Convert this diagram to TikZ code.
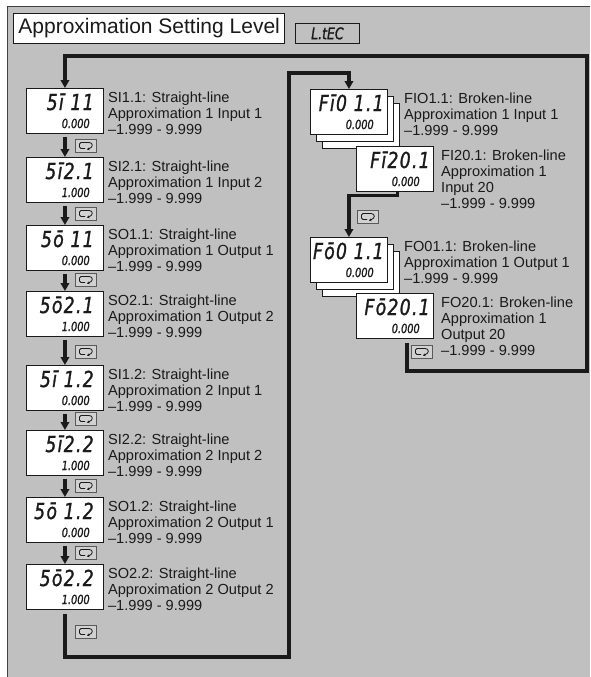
\documentclass[tikz,border=0pt]{standalone}
\usepackage{fontspec}
\setmainfont{Liberation Sans}
\newfontfamily\segfont[FakeStretch=0.78,FakeBold=1.2]{DejaVu Sans}
\newfontfamily\segwide[FakeStretch=0.78,FakeBold=1.2,LetterSpace=6]{DejaVu Sans}
\usetikzlibrary{arrows.meta}
\definecolor{bggray}{HTML}{C0C0C0}
\definecolor{ink}{HTML}{1A1A1A}
\tikzset{
  lcd/.style={draw=ink, line width=0.9pt, fill=white, minimum width=77pt, minimum height=45pt, anchor=north west, inner sep=0pt},
  segbig/.style={font=\segwide\itshape\fontsize{22}{22}\selectfont, inner sep=0pt, anchor=base east, text=ink},
  segsmall/.style={font=\segfont\itshape\fontsize{12.5}{12.5}\selectfont, inner sep=0pt, anchor=base east, text=ink},
  lbl/.style={font=\fontsize{14.6}{16}\selectfont, anchor=north west, inner sep=0pt, align=left, text=ink},
  flow/.style={line width=3.4pt, draw=ink},
  flowarr/.style={flow, -{Triangle[length=8pt,width=8.5pt]}},
  keyicon/.pic={
    \draw[draw=black!65, line width=0.6pt, fill=black!18] (0,0) rectangle (21,13);
    \draw[ink, line width=0.8pt, rounded corners=1.5pt] (14,3.5) -- (4.5,3.5) -- (4.5,9.5) -- (10,9.5);
    \draw[ink, line width=0.8pt, -{Stealth[length=2.5pt,width=3pt]}] (14,3.5) .. controls (18.5,3.5) and (18.5,8.5) .. (12,10.5);
  }
}
\newcommand\dispunit[5]{%
  \node[lcd] (#1) at (#2) {};
  \node[segbig] (#1t) at ([xshift=-10pt,yshift=-22pt]#1.north east) {#3};
  \node[segsmall] (#1s) at ([xshift=-14pt,yshift=-40pt]#1.north east) {#4};
  \node[lbl] (#1l) at ([xshift=4pt,yshift=-4pt]#1.north east) {#5};
}
\begin{document}
\begin{tikzpicture}[x=1pt,y=-1pt]
\useasboundingbox (0,0) rectangle (590,677);
\fill[bggray] (7,6) rectangle (590,677);
\draw[black!75, line width=0.8pt] (7,677) -- (7,6) -- (590,6);

% title
\node[draw=ink, line width=0.9pt, fill=white, anchor=north west, minimum height=30pt, inner xsep=5pt, inner ysep=0pt,
      font=\fontsize{21}{21}\selectfont, text=ink] (title) at (13,13) {Approximation Setting Level};
\node[draw=ink, line width=0.8pt, anchor=north west, minimum width=64pt, minimum height=20pt, inner sep=0pt,
      font=\segfont\itshape\fontsize{16}{16}\selectfont, text=ink] (lvl) at (295,23) {L.tEC};

% left column
\dispunit{b1}{26,88}{5ī 11}{0.000}{SI1.1: Straight-line\\Approximation 1 Input 1\\–1.999 - 9.999}
\dispunit{b2}{26,157}{5ī2.1}{1.000}{SI2.1: Straight-line\\Approximation 1 Input 2\\–1.999 - 9.999}
\dispunit{b3}{26,225}{5ō 11}{0.000}{SO1.1: Straight-line\\Approximation 1 Output 1\\–1.999 - 9.999}
\dispunit{b4}{26,291}{5ō2.1}{1.000}{SO2.1: Straight-line\\Approximation 1 Output 2\\–1.999 - 9.999}
\dispunit{b5}{26,365}{5ī 1.2}{0.000}{SI1.2: Straight-line\\Approximation 2 Input 1\\–1.999 - 9.999}
\dispunit{b6}{26,430}{5ī2.2}{1.000}{SI2.2: Straight-line\\Approximation 2 Input 2\\–1.999 - 9.999}
\dispunit{b7}{26,497}{5ō 1.2}{0.000}{SO1.2: Straight-line\\Approximation 2 Output 1\\–1.999 - 9.999}
\dispunit{b8}{26,564}{5ō2.2}{1.000}{SO2.2: Straight-line\\Approximation 2 Output 2\\–1.999 - 9.999}

\foreach \a/\b in {b1/b2,b2/b3,b3/b4,b4/b5,b5/b6,b6/b7,b7/b8}{
  \draw[flowarr] ([yshift=-3pt]\a.south) -- (\b.north);
}
\foreach \t in {139,207,273,345,412,479,546,625}{
  \pic at (75,\t) {keyicon};
}

% right column: stacked FIO1.1
\node[lcd] (f1c) at (322,103) {};
\node[lcd] (f1b) at (316,96) {};
\node[lcd] (f1) at (310,89) {};
\node[segbig] (f1t) at ([xshift=-4pt,yshift=-22pt]f1.north east) {Fī0 1.1};
\node[segsmall] (f1s) at ([xshift=-14pt,yshift=-40pt]f1.north east) {0.000};
\node[lbl] (f1l) at (404,93) {FIO1.1: Broken-line\\Approximation 1 Input 1\\–1.999 - 9.999};

\node[lcd] (f2) at (356,146) {};
\node[segbig] (f2t) at ([xshift=-4pt,yshift=-22pt]f2.north east) {Fī20.1};
\node[segsmall] (f2s) at ([xshift=-14pt,yshift=-40pt]f2.north east) {0.000};
\node[lbl] (f2l) at (441,150) {FI20.1: Broken-line\\Approximation 1\\Input 20\\–1.999 - 9.999};

% stacked FO01.1
\node[lcd] (o1c) at (322,251) {};
\node[lcd] (o1b) at (316,244) {};
\node[lcd] (o1) at (310,237) {};
\node[segbig] (o1t) at ([xshift=-4pt,yshift=-22pt]o1.north east) {Fō0 1.1};
\node[segsmall] (o1s) at ([xshift=-14pt,yshift=-40pt]o1.north east) {0.000};
\node[lbl] (o1l) at (404,241) {FO01.1: Broken-line\\Approximation 1 Output 1\\–1.999 - 9.999};

\node[lcd] (o2) at (356,293) {};
\node[segbig] (o2t) at ([xshift=-4pt,yshift=-22pt]o2.north east) {Fō20.1};
\node[segsmall] (o2s) at ([xshift=-14pt,yshift=-40pt]o2.north east) {0.000};
\node[lbl] (o2l) at (441,297) {FO20.1: Broken-line\\Approximation 1\\Output 20\\–1.999 - 9.999};

\pic at (357,210) {keyicon};
\pic at (411,345) {keyicon};

% connectors
\coordinate (c1) at (289,657);
\coordinate (c2) at (289,73);
\draw[flowarr] ([yshift=-4pt]b8.south) |- (c1) -- (c2) -| (f1.north);

\draw[flowarr] ([xshift=2.5pt]f2.south) -- ++(0,3.5) -| (o1.north);

\coordinate (c3) at (407,343);
\coordinate (c4) at (587,371);
\coordinate (c5) at (587,56);
\draw[flowarr] (c3) |- (c4) -- (c5) -| (b1.north);
\end{tikzpicture}
\end{document}
